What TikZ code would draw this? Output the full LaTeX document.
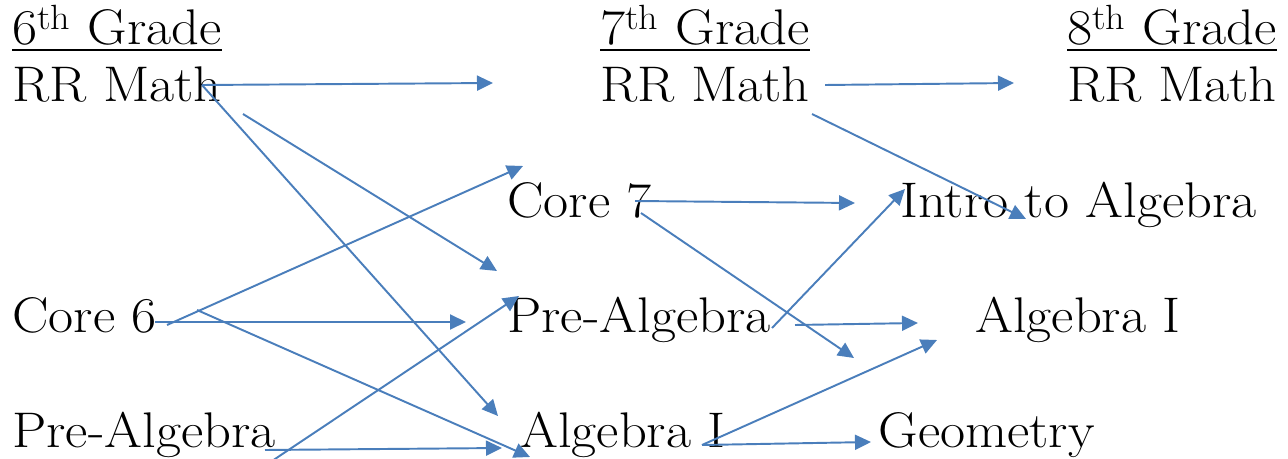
\documentclass[tikz,border=0pt]{standalone}
\usetikzlibrary{arrows.meta}
\definecolor{linkblue}{RGB}{74,126,187}

\begin{document}
\begin{tikzpicture}[
  x=0.02cm, y=-0.02cm,
  course/.style={anchor=base west, inner sep=0pt, xscale=1.09, transform shape,
                 font=\fontsize{28.5}{30}\selectfont},
  grade/.style={course},
  uline/.style={line width=1.7pt},
  arrow/.style={-{Triangle[length=0.32cm, width=0.3cm]},
                line width=1.1pt, draw=linkblue},
]
\useasboundingbox (0,0) rectangle (1288,459);

% ---- grade headings ----
\node[grade] (g6) at (12,45)   {6\textsuperscript{th} Grade};
\node[grade] (g7) at (600,45)  {7\textsuperscript{th} Grade};
\node[grade] (g8) at (1067,45) {8\textsuperscript{th} Grade};
\foreach \g in {g6,g7,g8}
  \draw[uline] ([yshift=-0.1cm]\g.base west) -- ([yshift=-0.1cm]\g.base east);

% ---- 6th grade courses ----
\node[course] (rr6)     at (12,102) {RR Math};
\node[course] (core6)   at (12,332) {Core 6};
\node[course] (prealg6) at (12,447) {Pre-Algebra};

% ---- 7th grade courses ----
\node[course] (rr7)     at (600,102) {RR Math};
\node[course] (core7)   at (507,218) {Core 7};
\node[course] (prealg7) at (507,332) {Pre-Algebra};
\node[course] (alg7)    at (520,447) {Algebra I};

% ---- 8th grade courses ----
\node[course] (rr8)     at (1067,102) {RR Math};
\node[course] (intro8)  at (900,218)  {Intro to Algebra};
\node[course] (alg8)    at (975,332)  {Algebra I};
\node[course] (geo8)    at (878,447)  {Geometry};

% ---- arrow ends ----
\coordinate (rr6-a)     at (202,85);
\coordinate (rr6-b)     at (243,114);
\coordinate (core6-a)   at (167,325);
\coordinate (core6-b)   at (155,322);
\coordinate (core6-c)   at (197,310);
\coordinate (prealg6-a) at (272,461);
\coordinate (prealg6-b) at (265,450);
\coordinate (rr7-in)    at (493,83);
\coordinate (rr7-a)     at (825,85);
\coordinate (rr7-b)     at (812,114);
\coordinate (core7-in)  at (523,166);
\coordinate (core7-a)   at (635,201);
\coordinate (core7-b)   at (641,213);
\coordinate (prealg7-in1) at (497,271);
\coordinate (prealg7-in2) at (466,322);
\coordinate (prealg7-in3) at (519,296);
\coordinate (prealg7-a) at (772,328);
\coordinate (prealg7-b) at (795,325);
\coordinate (alg7-in1)  at (498,416);
\coordinate (alg7-in2)  at (530,457);
\coordinate (alg7-in3)  at (502,448);
\coordinate (alg7-a)    at (702,445);
\coordinate (rr8-in)    at (1014,83);
\coordinate (intro8-in1) at (1026,219);
\coordinate (intro8-in2) at (855,203);
\coordinate (intro8-in3) at (905,189);
\coordinate (alg8-in1)  at (918,323);
\coordinate (alg8-in2)  at (937,340);
\coordinate (core7-out) at (854,358);
\coordinate (geo8-in)   at (871,442);

% ---- 6th to 7th ----
\draw[arrow] (rr6-a)     -- (rr7-in);
\draw[arrow] (rr6-a)     -- (alg7-in1);
\draw[arrow] (rr6-b)     -- (prealg7-in1);
\draw[arrow] (core6-a)   -- (core7-in);
\draw[arrow] (core6-b)   -- (prealg7-in2);
\draw[arrow] (core6-c)   -- (alg7-in2);
\draw[arrow] (prealg6-a) -- (prealg7-in3);
\draw[arrow] (prealg6-b) -- (alg7-in3);

% ---- 7th to 8th ----
\draw[arrow] (rr7-a)     -- (rr8-in);
\draw[arrow] (rr7-b)     -- (intro8-in1);
\draw[arrow] (core7-a)   -- (intro8-in2);
\draw[arrow] (core7-b)   -- (core7-out);
\draw[arrow] (prealg7-a) -- (intro8-in3);
\draw[arrow] (prealg7-b) -- (alg8-in1);
\draw[arrow] (alg7-a)    -- (alg8-in2);
\draw[arrow] (alg7-a)    -- (geo8-in);

\end{tikzpicture}
\end{document}
